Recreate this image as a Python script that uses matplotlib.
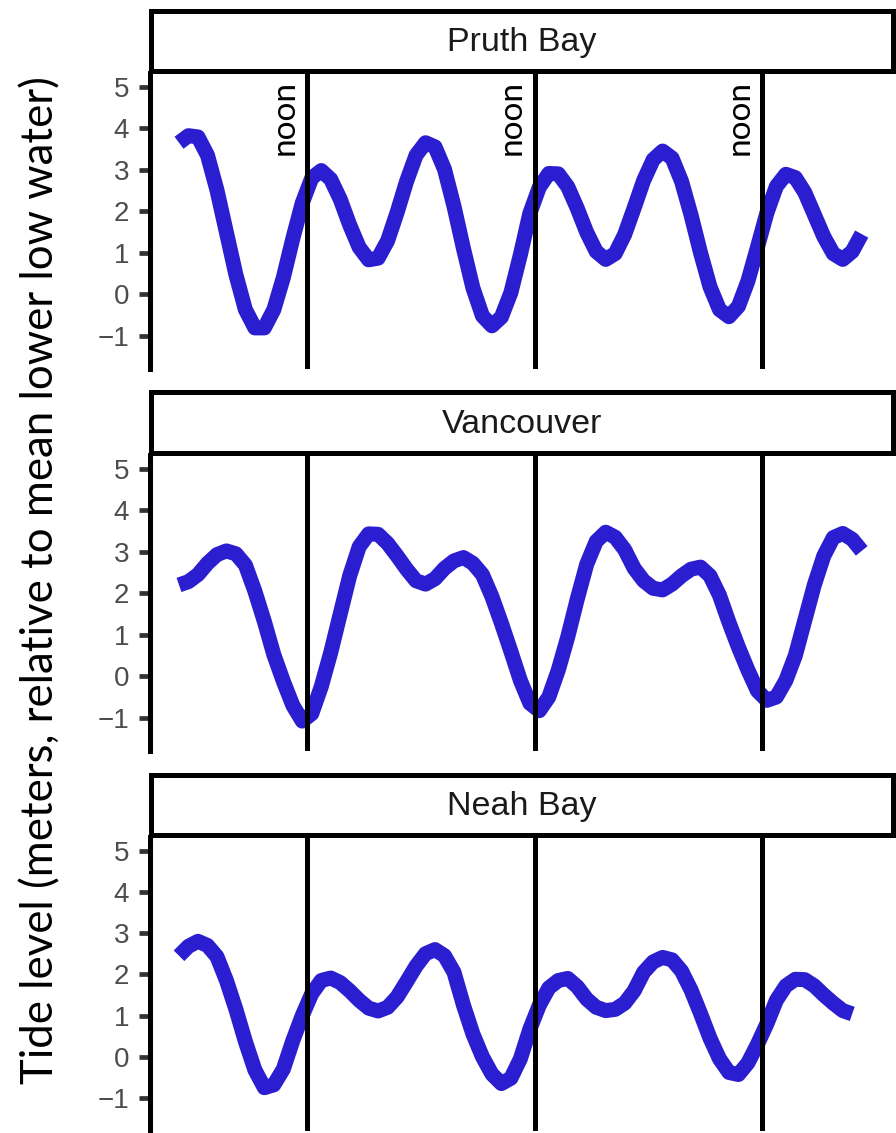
import numpy as np
import matplotlib.pyplot as plt

# hourly readings, hours counted from midnight of the first day
hours = np.arange(-1.5, 71.0, 1.0)
noon_hours = [12, 36, 60]
sites = ["Pruth Bay", "Vancouver", "Neah Bay"]

pruth_bay = [3.65, 3.82, 3.79, 3.35, 2.51, 1.49, 0.47, -0.37, -0.81, -0.81,
             -0.37, 0.40, 1.34, 2.20, 2.80, 2.98, 2.77, 2.29, 1.67, 1.13,
             0.83, 0.87, 1.29, 1.97, 2.72, 3.35, 3.65, 3.55, 3.01, 2.12,
             1.10, 0.15, -0.52, -0.76, -0.55, 0.04, 0.95, 1.95, 2.58, 2.91,
             2.90, 2.59, 2.07, 1.49, 1.03, 0.84, 0.98, 1.44, 2.08, 2.74,
             3.24, 3.45, 3.28, 2.72, 1.91, 1.00, 0.18, -0.37, -0.54, -0.29,
             0.32, 1.13, 1.96, 2.60, 2.89, 2.81, 2.45, 1.92, 1.39, 0.98,
             0.84, 1.03, 1.45]

vancouver = [2.20, 2.28, 2.45, 2.72, 2.93, 3.02, 2.95, 2.68, 2.05, 1.32,
             0.52, -0.12, -0.70, -1.08, -0.90, -0.25, 0.57, 1.50, 2.42, 3.12,
             3.43, 3.42, 3.20, 2.90, 2.58, 2.30, 2.22, 2.35, 2.60, 2.78,
             2.86, 2.72, 2.45, 1.92, 1.28, 0.60, -0.10, -0.65, -0.83, -0.50,
             0.15, 0.95, 1.86, 2.70, 3.25, 3.47, 3.35, 3.05, 2.60, 2.30,
             2.12, 2.08, 2.22, 2.42, 2.58, 2.63, 2.42, 1.95, 1.30, 0.70,
             0.15, -0.35, -0.58, -0.50, -0.10, 0.50, 1.35, 2.20, 2.90, 3.34,
             3.44, 3.30, 3.02]

# Neah Bay record stops an hour earlier
neah_bay = [2.45, 2.68, 2.80, 2.70, 2.43, 1.85, 1.15, 0.37, -0.32, -0.75,
            -0.68, -0.30, 0.39, 1.00, 1.53, 1.85, 1.91, 1.80, 1.60, 1.37,
            1.18, 1.11, 1.20, 1.45, 1.82, 2.20, 2.50, 2.60, 2.45, 2.05,
            1.25, 0.55, 0.00, -0.42, -0.65, -0.52, -0.05, 0.67, 1.25, 1.67,
            1.85, 1.90, 1.70, 1.40, 1.20, 1.12, 1.15, 1.30, 1.60, 2.05,
            2.30, 2.41, 2.35, 2.08, 1.62, 1.05, 0.45, -0.05, -0.38, -0.43,
            -0.15, 0.30, 0.80, 1.37, 1.72, 1.88, 1.87, 1.72, 1.50, 1.30,
            1.12, 1.04]

series = [pruth_bay, vancouver, neah_bay]
yticks = [-1, 0, 1, 2, 3, 4, 5]

W, H = 896, 1133
fig = plt.figure(figsize=(W / 100, H / 100), dpi=100)


def px_axes(x0, y0, x1, y1):
    return fig.add_axes([x0 / W, 1 - y1 / H, (x1 - x0) / W, (y1 - y0) / H])


strips = [(10.5, 70.5), (392.5, 452.5), (774.5, 834.5)]
panels = [(73, 369), (455, 751), (837, 1131)]
line_col = "#2B1DD0"

for i in range(3):
    ax = px_axes(150, panels[i][0], 893, panels[i][1])
    vals = series[i]
    ax.plot(hours[:len(vals)], vals, color=line_col, lw=10.8,
            solid_capstyle="butt", solid_joinstyle="round", zorder=2)
    for nh in noon_hours:
        ax.axvline(nh, color="black", lw=3.6, zorder=3)
        if i == 0:
            ax.text(nh - 0.8, 0.976, "noon", rotation=90, ha="right", va="top",
                    transform=ax.get_xaxis_transform(), fontsize=24,
                    family="Lato", color="black")
    ax.set_xlim(-4.56, 73.8)
    ax.set_ylim(-1.8, 5.33)
    ax.set_yticks(yticks)
    ax.set_yticklabels([f"{v}".replace("-", "\u2212") for v in yticks])
    ax.set_xticks([])
    for s in ["top", "right", "bottom"]:
        ax.spines[s].set_visible(False)
    ax.spines["left"].set_linewidth(3.6)
    ax.spines["left"].set_color("black")
    ax.tick_params(axis="y", length=8, width=3.4, color="#333333", pad=7,
                   labelsize=20, labelcolor="#4D4D4D")
    for lab in ax.get_yticklabels():
        lab.set_family("Liberation Sans")

    sx = px_axes(151, strips[i][0], 892.5, strips[i][1])
    sx.set_xticks([])
    sx.set_yticks([])
    for s in sx.spines.values():
        s.set_linewidth(3.6)
        s.set_color("black")
    sx.text(0.5, 0.47, sites[i], ha="center", va="center", fontsize=24.5,
            family="Liberation Sans", color="#1A1A1A", transform=sx.transAxes)

ylab = fig.text(41 / W, 1 - 580 / H,
                "Tide level (meters, relative to mean lower low water)",
                rotation=90, ha="center", va="center", fontsize=30,
                family="Lato", color="black")
fig.canvas.draw()
ext = ylab.get_window_extent(fig.canvas.get_renderer())
ylab.set_fontsize(30 * 1006 / ext.height)

fig.savefig("out.png", dpi=100)
